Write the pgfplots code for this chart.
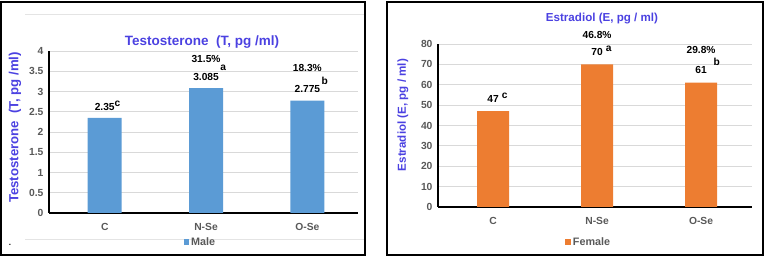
\documentclass[border=0pt]{standalone}
\usepackage{pgfplots}
\pgfplotsset{compat=1.18}
\usepackage{fontspec}
\setmainfont{Liberation Sans}
\definecolor{barblue}{RGB}{91,155,213}
\definecolor{barorange}{RGB}{237,125,49}
\definecolor{titleblue}{RGB}{75,65,225}
\definecolor{tickgray}{RGB}{89,89,89}
\definecolor{gridgray}{RGB}{217,217,217}
\pgfplotsset{
  mystyle/.style={
    scale only axis, anchor=south west,
    axis x line=bottom, axis y line=left,
    axis line style={black, line width=1.6pt, -},
    ymajorgrids, grid style={gridgray, line width=0.8pt},
    major tick length=0pt,
    xtick={0,1,2}, xticklabels={C,N-Se,O-Se},
    tick label style={font=\bfseries\fontsize{10.3}{12}\selectfont, text=tickgray},
    xticklabel style={yshift=-7pt},
    yticklabel style={xshift=-2pt},
    /pgf/number format/assume math mode=true,
    legend style={draw=none, fill=none, font=\bfseries\fontsize{10.8}{12}\selectfont, text=tickgray, anchor=center, inner sep=0pt},
    clip=false,
  },
  lbl/.style={nodes near coords, point meta=explicit symbolic,
    every node near coord/.append style={font=\bfseries\fontsize{10.2}{12}\selectfont, text=black}},
}
\begin{document}
\begin{tikzpicture}[x=1pt,y=1pt]
% frames
\path (0,0) rectangle (764,257);
\draw[black, line width=2pt] (1,2) rectangle (365,255);
\draw[black, line width=2pt] (387,2) rectangle (763,255);
\draw[gridgray!70, line width=0.6pt] (25,243) -- (364,243);
\draw[gridgray!70, line width=0.6pt] (25,18) -- (364,18);
\node[font=\bfseries\fontsize{8}{8}\selectfont] at (10,12) {.};
% ---------- left ----------
\begin{axis}[mystyle,
  at={(49pt,44pt)}, width=309pt, height=162pt,
  xmin=-0.55, xmax=2.5, ymin=0, ymax=4,
  ytick={0,0.5,...,4},
  yticklabels={0,0.5,1,1.5,2,2.5,3,3.5,4},
  legend style={at={(0.49,-0.18)}},
  legend image code/.code={\fill[barblue] (0pt,-2.8pt) rectangle (5.6pt,2.8pt);},
]
\addplot[ybar, bar width=34pt, bar shift=0pt, fill=barblue, draw=none, lbl,
  every node near coord/.append style={yshift=4pt}]
  coordinates {(0,2.35) [2.35\rlap{\raisebox{4pt}{c}}]
               (1,3.085) [3.085\rlap{\hspace{1.5pt}\raisebox{10pt}{a}}]
               (2,2.775) [2.775\rlap{\hspace{1.5pt}\raisebox{8pt}{b}}]};
\addlegendentry{Male}
\addplot[draw=none, mark=none, forget plot, lbl,
  every node near coord/.append style={yshift=4pt}]
  coordinates {(1,3.085) [\raisebox{18.3pt}{31.5\%}]
               (2,2.775) [\raisebox{22pt}{18.3\%}]};
\end{axis}
\node[font=\bfseries\fontsize{13.5}{15}\selectfont, text=titleblue] at (202,215) {Testosterone\ \ (T, pg /ml)};
\node[font=\bfseries\fontsize{13.2}{15}\selectfont, text=titleblue, rotate=90] at (15,129.5) {Testosterone\ \ (T, pg /ml)};
% ---------- right ----------
\begin{axis}[mystyle,
  at={(438pt,50pt)}, width=314pt, height=163pt,
  xmin=-0.53, xmax=2.49, ymin=0, ymax=80,
  ytick={0,10,...,80},
  legend style={at={(0.48,-0.215)}},
  legend image code/.code={\fill[barorange] (0pt,-2.8pt) rectangle (5.6pt,2.8pt);},
]
\addplot[ybar, bar width=32pt, bar shift=0pt, fill=barorange, draw=none, lbl,
  every node near coord/.append style={yshift=5.5pt}]
  coordinates {(0,47) [47\rlap{\hspace{3pt}\raisebox{4pt}{c}}]
               (1,70) [70\rlap{\hspace{3pt}\raisebox{3.5pt}{a}}]
               (2,61) [61\rlap{\hspace{7pt}\raisebox{8pt}{b}}]};
\addlegendentry{Female}
\addplot[draw=none, mark=none, forget plot, lbl,
  every node near coord/.append style={yshift=5.5pt}]
  coordinates {(1,70) [\raisebox{17pt}{46.8\%}]
               (2,61) [\raisebox{20pt}{29.8\%}]};
\end{axis}
\node[font=\bfseries\fontsize{11.6}{14}\selectfont, text=titleblue] at (602,238) {Estradiol (E, pg / ml)};
\node[font=\bfseries\fontsize{11.6}{14}\selectfont, text=titleblue, rotate=90] at (403,142) {Estradiol (E, pg / ml)};
\end{tikzpicture}
\end{document}
